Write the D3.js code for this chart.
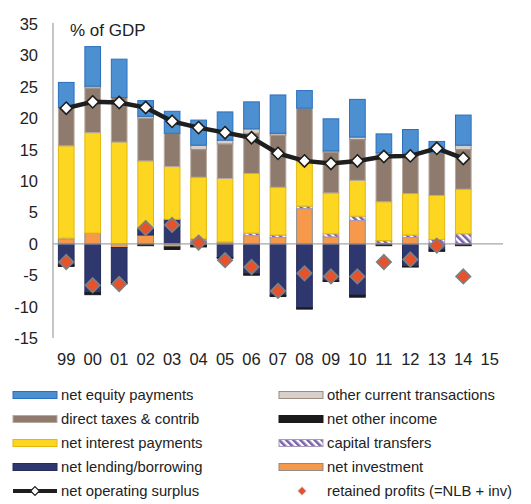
<!DOCTYPE html>
<html>
<head>
<meta charset="utf-8">
<script src="https://cdn.jsdelivr.net/npm/d3@7"></script>
<style>
  body { margin: 0; background: #fff; }
  text { font-family: "Liberation Sans", Arial, sans-serif; fill: #222; }
</style>
</head>
<body>
<svg id="chart"></svg>
<script>
const width = 531;
const height = 504;

// ---- data (% of GDP), years 1999..2015 ----
const years = ['99', '00', '01', '02', '03', '04', '05', '06', '07', '08', '09', '10', '11', '12', '13', '14', '15'];
const netInvestment = [0.7, 1.7, -0.6, 1.4, -0.5, 0.5, 0.3, 1.3, 1.0, 5.6, 1.1, 3.7, 0, 1.0, 0, 0, null];
const capitalTransfers = [0.2, 0, 0, 0, 0, 0.3, 0, 0.4, 0.4, 0.4, 0.5, 0.7, 0.5, 0.4, 0.7, 1.6, null];
const netLending = [-3.4, -7.8, -5.6, 1.1, 3.9, -0.3, -2.2, -4.8, -8.2, -10.2, -5.9, -8.2, 0, -3.6, -1.0, 0, null];
const netInterest = [14.7, 16.0, 16.2, 10.7, 8.4, 9.8, 10.1, 9.5, 7.6, 7.1, 6.5, 5.7, 6.2, 6.6, 7.0, 7.1, null];
const directTaxes = [6.1, 7.1, 7.1, 6.8, 5.3, 4.4, 5.5, 6.4, 8.3, 8.5, 6.5, 6.5, 7.8, 6.4, 6.8, 6.3, null];
const otherCurrent = [0, 0.3, 0, 0.3, 0, 0.7, 0.6, 0.7, 0.3, 0, 0.2, 0.4, 0, 0, 0, 0.7, null];
const netEquity = [4.0, 6.3, 6.1, 2.5, 3.5, 4.0, 4.5, 4.3, 6.1, 2.8, 5.1, 6.0, 3.0, 3.8, 1.8, 4.8, null];
const netOtherIncome = [-0.2, -0.3, -0.2, -0.3, -0.4, -0.2, -0.1, -0.2, -0.2, -0.2, -0.1, -0.3, -0.3, -0.1, -0.2, -0.3, null];
const operatingSurplus = [21.6, 22.6, 22.5, 21.7, 19.5, 18.5, 17.7, 16.9, 14.4, 13.2, 12.8, 13.2, 13.9, 14.0, 15.2, 13.6, null];
const retainedProfits = [-2.9, -6.6, -6.4, 2.5, 3.0, 0.2, -2.6, -3.7, -7.5, -4.7, -5.2, -5.2, -2.9, -2.5, -0.3, -5.2, null];
const yTicks = [-15, -10, -5, 0, 5, 10, 15, 20, 25, 30, 35];

const series = [
  { key: 'inv', name: 'net investment', values: netInvestment, fill: '#f7994b', stroke: '#8c8c8c' },
  { key: 'capT', name: 'capital transfers', values: capitalTransfers, fill: 'url(#hatch)', stroke: '#a89ab8' },
  { key: 'nlb', name: 'net lending/borrowing', values: netLending, fill: '#2f376f', stroke: '#262c5a' },
  { key: 'int', name: 'net interest payments', values: netInterest, fill: '#fdd621', stroke: '#e2b80e' },
  { key: 'tax', name: 'direct taxes & contrib', values: directTaxes, fill: '#8f7b6e', stroke: '#b5a9a0' },
  { key: 'oth', name: 'other current transactions', values: otherCurrent, fill: '#d6cfca', stroke: '#9d8c80' },
  { key: 'eq', name: 'net equity payments', values: netEquity, fill: '#4d90d1', stroke: '#2a6fbf' },
  { key: 'noi', name: 'net other income', values: netOtherIncome, fill: '#1b1b1b', stroke: '#1b1b1b' },
];

const table = years.map(function (y, i) {
  const row = { year: y };
  series.forEach(function (s) { row[s.key] = s.values[i] == null ? 0 : s.values[i]; });
  return row;
});

const svg = d3.select('#chart')
  .attr('width', width)
  .attr('height', height);

const defs = svg.append('defs');
const hatch = defs.append('pattern')
  .attr('id', 'hatch')
  .attr('patternUnits', 'userSpaceOnUse')
  .attr('width', 5)
  .attr('height', 5)
  .attr('patternTransform', 'rotate(-45)');
hatch.append('rect').attr('width', 5).attr('height', 5).attr('fill', '#fff');
hatch.append('rect').attr('width', 2.6).attr('height', 5).attr('fill', '#7b62ae');

const x = d3.scaleBand()
  .domain(years)
  .range([53, 503])
  .paddingInner(0.37)
  .paddingOuter(0.185);

const y = d3.scaleLinear()
  .domain([-15, 35])
  .range([338, 24]);

// axes
svg.append('line')
  .attr('x1', 53).attr('x2', 53)
  .attr('y1', y(35) - 1).attr('y2', y(-15))
  .attr('stroke', '#a6a6a6').attr('stroke-width', 1.3);

svg.append('g')
  .selectAll('text')
  .data(yTicks)
  .enter()
  .append('text')
  .attr('x', 38)
  .attr('y', d => y(d) + 6)
  .attr('text-anchor', 'end')
  .attr('font-size', 16.5)
  .text(d => d);

svg.append('g')
  .selectAll('text')
  .data(years)
  .enter()
  .append('text')
  .attr('x', d => x(d) + x.bandwidth() / 2)
  .attr('y', 365)
  .attr('text-anchor', 'middle')
  .attr('font-size', 16.5)
  .text(d => d);

svg.append('text')
  .attr('x', 70)
  .attr('y', 36)
  .attr('font-size', 17)
  .text('% of GDP');

// ===========================================================================
//      stacked bars
// ===========================================================================
const stack = d3.stack()
  .keys(series.map(s => s.key))
  .offset(d3.stackOffsetDiverging);
const stacked = stack(table);

stacked.forEach(function (layer, li) {
  const s = series[li];
  svg.append('g')
    .selectAll('rect')
    .data(layer.filter(d => d[1] - d[0] !== 0))
    .enter()
    .append('rect')
    .attr('x', d => x(d.data.year) + 0.5)
    .attr('width', x.bandwidth() - 1)
    .attr('y', d => y(Math.max(d[0], d[1])))
    .attr('height', d => Math.abs(y(d[0]) - y(d[1])))
    .attr('fill', s.fill)
    .attr('stroke', s.stroke)
    .attr('stroke-width', 1);
});

// zero line
svg.append('line')
  .attr('x1', 53).attr('x2', 503)
  .attr('y1', y(0)).attr('y2', y(0))
  .attr('stroke', '#a6a6a6').attr('stroke-width', 1.3);

// ===========================================================================
//      net operating surplus line
// ===========================================================================
const nos = years.map((yr, i) => ({ year: yr, v: operatingSurplus[i] })).filter(d => d.v != null);
const line = d3.line()
  .x(d => x(d.year) + x.bandwidth() / 2)
  .y(d => y(d.v));
svg.append('path')
  .attr('d', line(nos))
  .attr('fill', 'none')
  .attr('stroke', '#1e1e1e')
  .attr('stroke-width', 4.5);

const diamond = d3.symbol().type(d3.symbolDiamond2);
svg.append('g')
  .selectAll('path')
  .data(nos)
  .enter()
  .append('path')
  .attr('d', diamond.size(95)())
  .attr('transform', d => `translate(${x(d.year) + x.bandwidth() / 2},${y(d.v)})`)
  .attr('fill', '#fff')
  .attr('stroke', '#1e1e1e')
  .attr('stroke-width', 1.6);

// retained profits
const rp = years.map((yr, i) => ({ year: yr, v: retainedProfits[i] })).filter(d => d.v != null);
svg.append('g')
  .selectAll('path')
  .data(rp)
  .enter()
  .append('path')
  .attr('d', diamond.size(130)())
  .attr('transform', d => `translate(${x(d.year) + x.bandwidth() / 2},${y(d.v)})`)
  .attr('fill', '#e8512a')
  .attr('stroke', '#7f7f7f')
  .attr('stroke-width', 1.8);

// ===========================================================================
//      legend
// ===========================================================================
const legendLeft = ['eq', 'tax', 'int', 'nlb'];
const legendRight = ['oth', 'noi', 'capT', 'inv'];
const rowY = [395, 419, 443, 467, 491];
const legendFont = 14.8;
const byKey = {};
series.forEach(s => { byKey[s.key] = s; });

function legendBox(g, s, x0, yy) {
  g.append('rect')
    .attr('x', x0).attr('y', yy - 3.5)
    .attr('width', 44).attr('height', 7)
    .attr('fill', s.fill)
    .attr('stroke', s.stroke)
    .attr('stroke-width', 1);
}

const legend = svg.append('g');
legendLeft.forEach(function (k, i) {
  legendBox(legend, byKey[k], 13, rowY[i]);
  legend.append('text').attr('x', 61).attr('y', rowY[i] + 5).attr('font-size', legendFont).text(byKey[k].name);
});
legendRight.forEach(function (k, i) {
  legendBox(legend, byKey[k], 279, rowY[i]);
  legend.append('text').attr('x', 327).attr('y', rowY[i] + 5).attr('font-size', legendFont).text(byKey[k].name);
});

// line legend
legend.append('line')
  .attr('x1', 13).attr('x2', 57)
  .attr('y1', rowY[4]).attr('y2', rowY[4])
  .attr('stroke', '#1e1e1e').attr('stroke-width', 4);
legend.append('path')
  .attr('d', diamond.size(50)())
  .attr('transform', `translate(35,${rowY[4]})`)
  .attr('fill', '#fff').attr('stroke', '#1e1e1e').attr('stroke-width', 1.2);
legend.append('text').attr('x', 61).attr('y', rowY[4] + 5).attr('font-size', legendFont).text('net operating surplus');

legend.append('path')
  .attr('d', diamond.size(45)())
  .attr('transform', `translate(302,${rowY[4]})`)
  .attr('fill', '#e8512a').attr('stroke', '#bbb').attr('stroke-width', 0.8);
legend.append('text').attr('x', 327).attr('y', rowY[4] + 5).attr('font-size', legendFont).text('retained profits (=NLB + inv)');
</script>
</body>
</html>
